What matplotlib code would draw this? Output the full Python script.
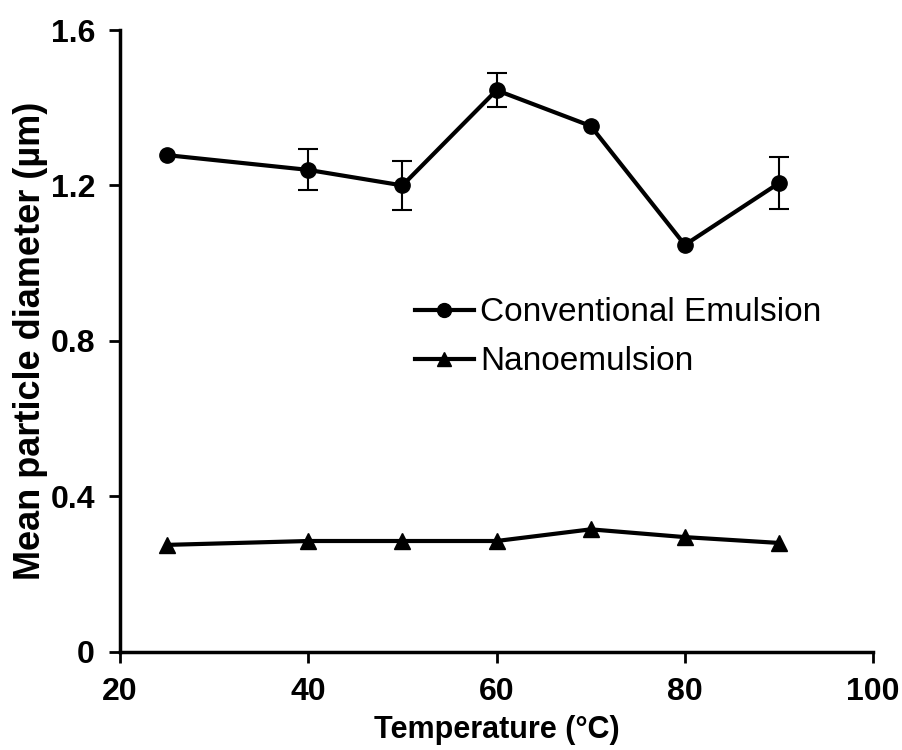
import numpy as np
import matplotlib.pyplot as plt
from matplotlib.lines import Line2D

plt.rcParams['font.family'] = ['Liberation Sans', 'DejaVu Sans']

# data
temps = [25, 40, 50, 60, 70, 80, 90]
conv = [1.278, 1.240, 1.200, 1.445, 1.353, 1.047, 1.206]
conv_err = [0, 0.053, 0.062, 0.044, 0, 0, 0.067]
nano = [0.275, 0.285, 0.285, 0.285, 0.315, 0.295, 0.280]
labels = ['Conventional Emulsion', 'Nanoemulsion']

fig = plt.figure(figsize=(9.02, 7.5), dpi=100)
ax = fig.add_axes([0.133, 0.131, 0.835, 0.829])

err = [e if e > 0 else np.nan for e in conv_err]
ax.errorbar(temps, conv, yerr=err, fmt='none', ecolor='black',
            elinewidth=1.5, capsize=7, capthick=1.5)
ax.plot(temps, conv, color='black', lw=3, marker='o', ms=11)
ax.plot(temps, nano, color='black', lw=3, marker='^', ms=11)

ax.set_xlim(20, 100)
ax.set_ylim(0, 1.6)
ax.set_xticks([20, 40, 60, 80, 100])
ax.set_yticks([0, 0.4, 0.8, 1.2, 1.6])
ax.set_yticklabels(['0', '0.4', '0.8', '1.2', '1.6'])

for s in ['top', 'right']:
    ax.spines[s].set_visible(False)
for s in ['left', 'bottom']:
    ax.spines[s].set_linewidth(2.5)
ax.tick_params(width=2, length=8, labelsize=23, pad=10)
for t in ax.get_xticklabels() + ax.get_yticklabels():
    t.set_fontweight('bold')

ax.set_xlabel('Temperature (°C)', fontsize=22, fontweight='bold', labelpad=6)
ax.set_ylabel('Mean particle diameter (µm)', fontsize=26, fontweight='bold', labelpad=2)

# legend
h = [Line2D([], [], color='black', lw=3, marker='o', ms=10),
     Line2D([], [], color='black', lw=3, marker='^', ms=10)]
ax.legend(h, labels, loc='upper left', bbox_to_anchor=(0.392, 0.57), frameon=False,
          fontsize=24, handlelength=1.75, handletextpad=0.2, labelspacing=0.54,
          borderpad=0, borderaxespad=0)

fig.savefig('out.png', dpi=100)
